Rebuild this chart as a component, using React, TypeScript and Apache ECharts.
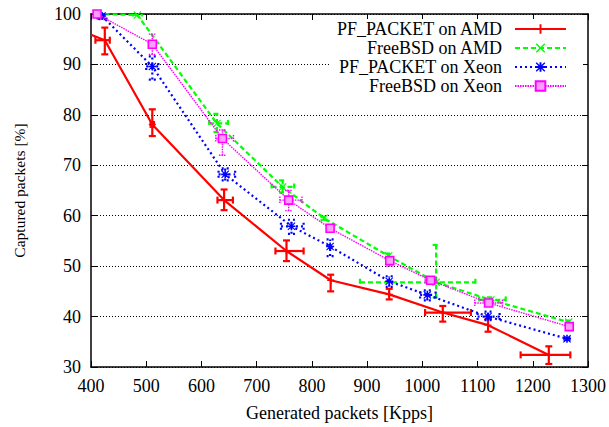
import React, { useEffect, useRef } from "react";
import * as echarts from "echarts";

// Each measurement: [rate, captured, rateLow, rateHigh, capturedLow, capturedHigh]
const pfPacketAmd = [
  [400, 95.9, 400, 400, 95.9, 95.9],
  [425, 94.8, 408, 434, 92.0, 97.3],
  [511, 78.1, 508, 514, 75.8, 81.1],
  [641, 63.1, 629, 657, 61.1, 65.2],
  [754, 53.0, 734, 785, 51.0, 55.1],
  [834, 47.2, 834, 834, 45.0, 48.3],
  [940, 44.4, 940, 940, 43.4, 45.5],
  [1037, 40.8, 1005, 1088, 39.0, 42.1],
  [1119, 38.3, 1119, 1119, 37.0, 39.6],
  [1229, 32.4, 1178, 1268, 30.6, 34.1],
];

const freeBsdAmd = [
  [410, 100, 410, 410, 100, 100],
  [484, 99.8, 476, 492, 99.8, 99.8],
  [628, 78.3, 614, 648, 76.6, 80.2],
  [747, 65.7, 727, 768, 64.6, 67.0],
  [822, 59.5, 822, 822, 59.2, 59.8],
  [939, 52.0, 939, 939, 51.5, 52.5],
  [1025, 46.8, 887, 1096, 43.8, 54.2],
  [1124, 43.3, 1103, 1151, 42.8, 43.8],
  [1265, 38.9, 1265, 1265, 38.6, 39.2],
];

const pfPacketXeon = [
  [420, 99.6, 412, 428, 99.0, 100],
  [511, 89.6, 500, 522, 87.0, 91.6],
  [643, 68.2, 631, 661, 67.0, 69.4],
  [763, 57.9, 744, 785, 56.4, 59.2],
  [833, 53.9, 833, 833, 52.0, 55.3],
  [940, 47.0, 940, 940, 45.9, 48.0],
  [1009, 44.3, 996, 1024, 43.2, 45.2],
  [1119, 40.0, 1100, 1140, 39.3, 41.0],
  [1262, 35.6, 1262, 1262, 35.3, 35.9],
];

const freeBsdXeon = [
  [411, 100, 411, 411, 100, 100],
  [511, 94.0, 511, 511, 92.0, 96.0],
  [638, 75.3, 626, 658, 72.0, 77.0],
  [758, 63.1, 742, 782, 61.0, 65.0],
  [833, 57.5, 833, 833, 57.0, 58.0],
  [941, 51.1, 941, 941, 50.0, 51.8],
  [1015, 47.2, 1005, 1025, 46.5, 47.8],
  [1120, 42.7, 1095, 1145, 42.2, 43.2],
  [1266, 38.0, 1266, 1266, 37.7, 38.3],
];

const seriesNames = [
  "PF_PACKET on AMD",
  "FreeBSD on AMD",
  "PF_PACKET on Xeon",
  "FreeBSD on Xeon",
];

const xMin = 400;
const xMax = 1300;
const xStep = 100;
const yMin = 30;
const yMax = 100;
const yStep = 10;

const FONT = "'Liberation Serif', 'Times New Roman', serif";

const PLUS = "path://M4,0H6V4H10V6H6V10H4V6H0V4H4Z";
const CROSS = "path://M0,1L1,0L5,4L9,0L10,1L6,5L10,9L9,10L5,6L1,10L0,9L4,5Z";
const STAR =
  "path://M4,0H6V4H10V6H6V10H4V6H0V4H4Z M0,1L1,0L5,4L9,0L10,1L6,5L10,9L9,10L5,6L1,10L0,9L4,5Z";

const looks = [
  { color: "#ff0000", width: 2.2, dash: null as number[] | null, symbol: PLUS, size: 7, fill: "#ff0000", border: 0 },
  { color: "#00ff00", width: 2.2, dash: [5, 3], symbol: CROSS, size: 8, fill: "#00ff00", border: 0 },
  { color: "#0000ff", width: 2.2, dash: [2, 3], symbol: STAR, size: 8, fill: "#0000ff", border: 0 },
  { color: "#ff00ff", width: 1.4, dash: [1.5, 1], symbol: "rect", size: 8, fill: "#ff9cff", border: 1.6 },
];

const datasets = [pfPacketAmd, freeBsdAmd, pfPacketXeon, freeBsdXeon];

function errorBars(color: string, width: number, dash: number[] | null) {
  return (_params: any, api: any) => {
    const y = api.value(1);
    const x = api.value(0);
    const xl = api.value(2);
    const xh = api.value(3);
    const yl = api.value(4);
    const yh = api.value(5);
    const cap = 3.5;
    const style = { stroke: color, lineWidth: width, lineDash: dash || undefined, fill: null };
    const children: any[] = [];
    const seg = (x1: number, y1: number, x2: number, y2: number) =>
      children.push({ type: "line", shape: { x1, y1, x2, y2 }, style });
    if (xh > xl) {
      const a = api.coord([xl, y]);
      const b = api.coord([xh, y]);
      seg(a[0], a[1], b[0], b[1]);
      seg(a[0], a[1] - cap, a[0], a[1] + cap);
      seg(b[0], b[1] - cap, b[0], b[1] + cap);
    }
    if (yh > yl) {
      const a = api.coord([x, yl]);
      const b = api.coord([x, yh]);
      seg(a[0], a[1], b[0], b[1]);
      seg(a[0] - cap, a[1], a[0] + cap, a[1]);
      seg(b[0] - cap, b[1], b[0] + cap, b[1]);
    }
    return { type: "group", children };
  };
}

export default function App() {
  const ref = useRef<HTMLDivElement>(null);

  useEffect(() => {
    document.body.style.margin = "0";
    if (!ref.current) return;
    const chart = echarts.init(ref.current, undefined, { renderer: "svg" });

    const lineSeries = datasets.map((d, i) => ({
      name: seriesNames[i],
      type: "line",
      // the run that starts on the left frame has no marker there
      data: d.map((p) =>
        p[0] <= xMin ? { value: [p[0], p[1]], symbol: "none" } : [p[0], p[1]]
      ),
      symbol: looks[i].symbol,
      symbolSize: looks[i].size,
      showSymbol: true,
      clip: true,
      z: 3 + i,
      color: looks[i].color,
      lineStyle: {
        color: looks[i].color,
        width: looks[i].width,
        type: looks[i].dash ?? "solid",
      },
      itemStyle: {
        color: looks[i].fill,
        borderColor: looks[i].color,
        borderWidth: looks[i].border,
      },
    }));

    const barSeries = datasets.map((d, i) => ({
      name: seriesNames[i],
      type: "custom",
      data: d,
      clip: true,
      z: 3 + i,
      color: looks[i].color,
      encode: { x: 0, y: 1 },
      renderItem: errorBars(looks[i].color, looks[i].width, looks[i].dash),
    }));

    const axisBase = {
      axisLine: { show: true, onZero: false, lineStyle: { color: "#000", width: 1.5 } },
      axisTick: { show: true, inside: true, length: 6, lineStyle: { color: "#000", width: 1 } },
    };

    const textStyle = { fontFamily: FONT, fontSize: 18, color: "#000" };

    chart.setOption({
      animation: false,
      backgroundColor: "#fff",
      textStyle: { fontFamily: FONT },
      grid: { left: 91, right: 18, top: 14, bottom: 57 },
      legend: {
        data: seriesNames,
        orient: "vertical",
        align: "right",
        right: 26,
        top: 19,
        itemWidth: 51,
        itemHeight: 12,
        itemGap: 1,
        backgroundColor: "#fff",
        padding: [1, 16, 1, 6],
        selectedMode: false,
        textStyle: { ...textStyle, lineHeight: 17, padding: [0, 8, 0, 0] },
      },
      xAxis: [
        {
          type: "value",
          min: xMin,
          max: xMax,
          interval: xStep,
          position: "bottom",
          name: "Generated packets [Kpps]",
          nameLocation: "middle",
          nameGap: 37,
          nameTextStyle: textStyle,
          axisLabel: { ...textStyle, margin: 10, formatter: (v: number) => String(v) },
          splitLine: { show: false },
          ...axisBase,
        },
        {
          type: "value",
          min: xMin,
          max: xMax,
          interval: xStep,
          position: "top",
          axisLabel: { show: false },
          splitLine: { show: false },
          ...axisBase,
        },
      ],
      yAxis: [
        {
          type: "value",
          min: yMin,
          max: yMax,
          interval: yStep,
          position: "left",
          name: "Captured packets [%]",
          nameLocation: "middle",
          nameGap: 64,
          nameRotate: 90,
          nameTextStyle: { ...textStyle, fontSize: 15.5 },
          axisLabel: { ...textStyle, margin: 10, formatter: (v: number) => String(v) },
          splitLine: { show: true, lineStyle: { color: "#000", width: 1, type: [1, 2] } },
          ...axisBase,
        },
        {
          type: "value",
          min: yMin,
          max: yMax,
          interval: yStep,
          position: "right",
          axisLabel: { show: false },
          splitLine: { show: false },
          ...axisBase,
        },
      ],
      series: [...lineSeries, ...barSeries],
    });

    return () => chart.dispose();
  }, []);

  return <div ref={ref} style={{ width: 609, height: 427 }} />;
}
